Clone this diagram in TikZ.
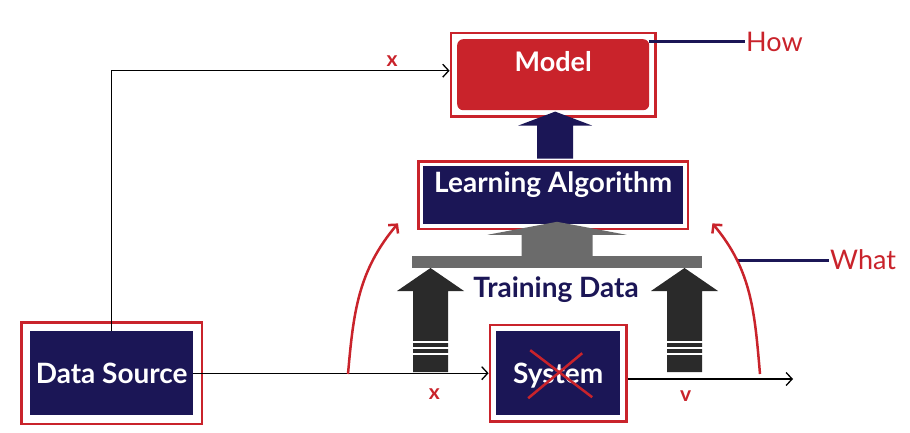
\documentclass[tikz,border=0pt]{standalone}
\usepackage{fontspec}
\setmainfont{Lato}
\usetikzlibrary{arrows.meta,fit}
\definecolor{navy}{HTML}{1B1656}
\definecolor{brick}{HTML}{C9232B}
\definecolor{slab}{HTML}{6B6B6B}
\definecolor{coal}{HTML}{2A2A2A}
\begin{document}
\begin{tikzpicture}[x=1pt,y=-1pt,
    blk/.style={fill=navy,text=white,font=\fontsize{28}{28}\selectfont\bfseries,inner sep=0pt,anchor=north west},
    frm/.style={draw=brick,line width=2.8pt},
    lbl/.style={text=brick,font=\fontsize{21}{21}\selectfont\bfseries},
    tag/.style={text=brick,font=\fontsize{27}{27}\selectfont,inner sep=1pt,anchor=west},
    feed/.style={-{Straight Barb[length=6pt,width=13pt]},line width=1.3pt},
    bow/.style={brick,line width=2.5pt,-{Straight Barb[length=6pt,width=13pt]}}]
  \useasboundingbox (0,0) rectangle (910,433);
  % boxes
  \node[blk,minimum width=163pt,text height=52pt,text depth=32pt] (src) at (30,331) {Data Source};
  \node[blk,minimum width=124pt,text height=52pt,text depth=32pt] (sys) at (496,331) {System};
  \node[blk,minimum width=260pt,text height=26pt,text depth=32pt] (lrn) at (423,166) {Learning Algorithm};
  \node[blk,font=\fontsize{27}{27}\selectfont\bfseries,fill=brick,rounded corners=6pt,minimum width=192pt,text height=32pt,text depth=39pt] (mdl) at (457,39) {Model};
  \foreach \n/\s in {src/8.5, sys/6, lrn/4.6, mdl/6}
  {	\node[frm,inner sep=\s pt,fit=(\n)] (f\n) {};
  }
  \draw[brick,line width=2.5pt] ([shift={(-28,-23)}]sys.center) -- ([shift={(34,24)}]sys.center)
    ([shift={(24,-20)}]sys.center) -- ([shift={(-30,25)}]sys.center);
  % tags
  \node[tag] (how)  at (745,42)  {How};
  \node[tag] (what) at (829,260) {What};
  \draw[navy,line width=3pt] (mdl.north east |- how.west) -- (how.west);
  \coordinate (wt) at (738,260);
  \draw[navy,line width=3pt] (wt) -- (what.west);
  % signal lines
  \coordinate (out) at (793,379);
  \draw[feed] (src.north) |- ([yshift=4pt]fmdl.west) node[lbl,pos=0.915,above] {x};
  \draw[feed] (src.east) -- (fsys.west) node[lbl,pos=0.816,below=12pt] {x};
  \draw[feed] (fsys.east |- out) -- (out) node[lbl,pos=0.35,below=8pt] {v};
  % red bows
  \coordinate (aL) at (348,374);
  \coordinate (aR) at (760,374);
  \draw[bow] (aL) to[out=85,in=230] ([shift={(-19,-7)}]flrn.south west);
  \draw[bow] (aR) to[out=95,in=-50] ([shift={(23,-7)}]flrn.south east);
  % training data
  \node[fill=slab,minimum width=290pt,minimum height=12pt,inner sep=0pt] (bar) at (557,262) {};
  \node[text=navy,font=\fontsize{28}{28}\selectfont\bfseries] (td) at (556,290) {Training Data};
  \fill[slab] (bar.north) ++(-35.5,0) -- ++(0,-21) -- ++(-34,0) -- ++(69.5,-13) -- ++(69.5,13) -- ++(-34,0) -- ++(0,21) -- cycle;
  \fill[navy] ([xshift=2pt,yshift=1.4pt]flrn.north) ++(-18,0) -- ++(0,-33) -- ++(-19,0) -- ++(37,-14) -- ++(37,14) -- ++(-19,0) -- ++(0,33) -- cycle;
  \coordinate (xs) at (430.5,373);
  \coordinate (vs) at (684.5,373);
  \foreach \c in {xs, vs}
  {	\fill[coal] (\c) ++(-17.5,-1) -- ++(0,-81) -- ++(-16,0) -- ++(33.5,-23) -- ++(33.5,23) -- ++(-16,0) -- ++(0,81) -- cycle;
    \draw[white,line width=2pt] (\c) ++(-18,-19) -- ++(36,0) ++(-36,-6) -- ++(36,0) ++(-36,-6) -- ++(36,0);
  }
\end{tikzpicture}
\end{document}
